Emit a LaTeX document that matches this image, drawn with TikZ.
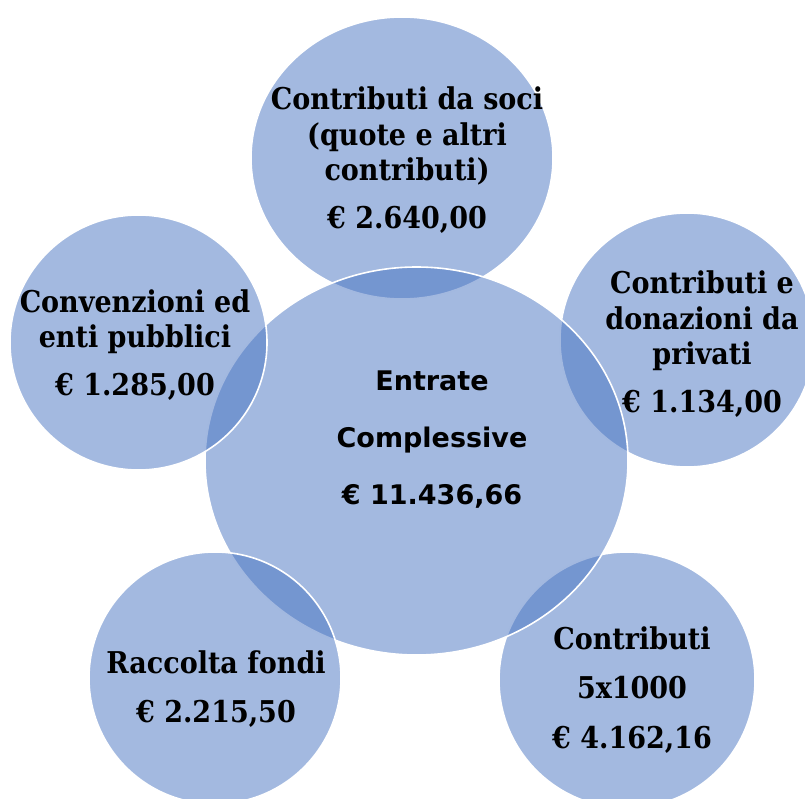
\documentclass[tikz,border=0pt]{standalone}
\usepackage{fontspec}
\setmainfont{DejaVu Serif Condensed}
\newfontfamily\totalfont{DejaVu Sans}
\usetikzlibrary{shapes.geometric}
\definecolor{bubbleblue}{RGB}{71,115,193}
\tikzset{
  bubble/.style={ellipse, fill=bubbleblue, fill opacity=0.5, draw=white, line width=1.6pt, inner sep=0pt},
  itemtext/.style={align=center, inner sep=0pt, font=\bfseries\fontsize{30}{35.5}\selectfont},
  totaltext/.style={align=center, inner sep=0pt, font=\totalfont\bfseries\fontsize{27}{57}\selectfont}
}
\begin{document}
\begin{tikzpicture}[x=1pt,y=-1pt]
                \useasboundingbox (0,0) rectangle (805,799);
                \clip (0,0) rectangle (805,799);
                \node[bubble, minimum width=302, minimum height=282] (soci) at (402,158) {};
                \node[bubble, minimum width=254, minimum height=254] (privati) at (687,340) {};
                \node[bubble, minimum width=256, minimum height=256] (cinque) at (627,680) {};
                \node[bubble, minimum width=423, minimum height=388] (centro) at (416.5,461) {};
                \node[bubble, minimum width=257, minimum height=255] (convenzioni) at (138.5,342.5) {};
                \node[bubble, minimum width=252, minimum height=252] (raccolta) at (215,678) {};

                \node[itemtext] (socitext) at (407,160) {Contributi da soci\\(quote e altri\\contributi)\\[12pt]€ 2.640,00};
                \node[itemtext] (privatitext) at (702,344) {Contributi e\\donazioni da\\privati\\[12pt]€ 1.134,00};
                \node[itemtext] (cinquetext) at (632,690) {Contributi\\[14pt]5x1000\\[14pt]€ 4.162,16};
                \node[itemtext] (convenzionitext) at (135,345) {Convenzioni ed\\enti pubblici\\[12pt]€ 1.285,00};
                \node[itemtext] (raccoltatext) at (216,689) {Raccolta fondi\\[14pt]€ 2.215,50};
                \node[totaltext] (centrotext) at (432,440) {Entrate\\Complessive\\€ 11.436,66};
\end{tikzpicture}
\end{document}
